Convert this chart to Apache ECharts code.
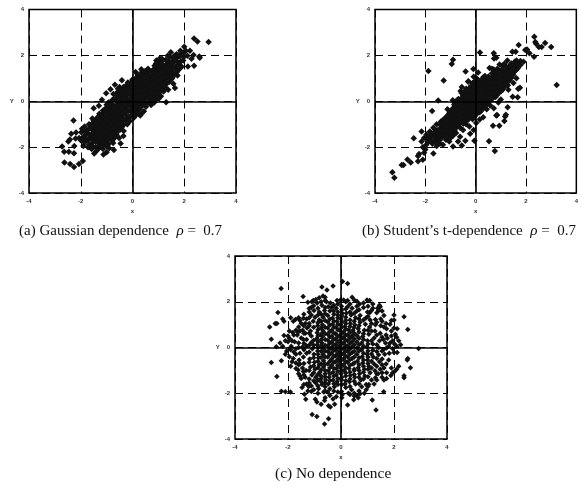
<!DOCTYPE html>
<html><head><meta charset="utf-8">
<style>html,body{margin:0;padding:0;background:#fff;overflow:hidden}#c{width:581px;height:487px}</style>
<script src="https://cdn.jsdelivr.net/npm/echarts@6/dist/echarts.min.js"></script>
</head><body><div id="c"></div>
<script>
const tickValues=[-4,-2,0,2,4];
const captions=["(a) Gaussian dependence","(b) Student\u2019s t-dependence","(c) No dependence"];
const rhoText="\u03c1";
const rhoValue="=  0.7";
const gaussianPoints=[
[2.94,2.58],[2.38,2.74],[2.51,2.6],[2.58,1.95],[2.6,1.9],[2.14,1.52],[2.38,1.55],[1.64,.58],[1.3,-.04],[-2.28,-.84],[-2.72,-1.97],[-2.64,-2.2],[-2.46,-2.2],[-2.26,-2.27],[-2.63,-2.67],[-2.41,-2.74],[-2.26,-2.87],[-2.07,-2.74],[-1.92,-2.6],[-2.37,-1.42],[-2.18,-1.36],[-2.48,-1.75],[-2.42,-1.67],[-2.25,-1.95],[-2.06,-1.6],[-2.0,-1.7],
[-1.5,-.3],[-1.3,-.2],[-1.18,.06],[-1.02,.35],[-.85,.52],[-.68,.72],[-.41,.92],[-.18,.82],[.12,1.27],[.2,1.15],[.34,1.4],[.6,1.42],[.92,1.78],[1.05,1.86],[1.48,2.14],[1.36,1.98],[1.9,2.1],[2.0,2.38],[2.06,2.2],[2.22,2.2],[2.36,2.02],[2.12,1.98],[2.28,1.85],[1.96,1.78],[1.72,1.9],[1.58,1.76],[1.8,1.62],[1.66,1.42],[1.42,1.6],[1.5,1.32],[1.74,1.12],[1.52,.98],[1.58,.76],[1.3,.74],[1.2,.42],[1.02,.32],[.92,.1],[.72,-.16],[.52,-.24],[.44,-.44],[.6,-.06],[.3,-.62],[.14,-.6],[-.1,-.86],[-.22,-.76],[-.34,-1.3],[-.52,-1.6],[-.62,-1.46],[-.46,-1.84],[-.75,-1.82],[-.9,-2.05],[-1.12,-2.32],[-1.0,-2.22],[-1.4,-2.18],[-1.48,-2.28],[-1.58,-2.08],[-1.72,-2.0],[-1.9,-1.95],[-.72,-2.12],
[-1.95,-1.2],[-1.85,-1.1],[-1.78,-1.42],[-1.9,-1.55],[-1.72,-1.7],[-1.58,-1.85],[-1.62,-1.52],[-1.55,-1.25],[-1.62,-1.05],[-1.5,-.9],[-1.4,-.8],[-1.42,-1.1],[-1.42,-1.38],[-1.42,-1.62],[-1.3,-1.78],[-1.25,-1.5],[-1.28,-1.25],[-1.28,-.98],[-1.25,-.68],[-1.15,-.55],[-1.14,-.85],[-1.12,-1.1],[-1.14,-1.38],[-1.15,-1.6],[-1.12,-1.92],[-1,-1.78],[-.98,-1.52],[-1,-1.25],[-1,-1],[-1,-.72],[-1,-.45],[-1,-.15],[-.86,-.05],[-.85,-.3],[-.85,-.58],[-.85,-.85],[-.85,-1.1],[-.85,-1.38],[-.82,-1.68],[-.7,-1.6],[-.7,-1.25],[-.7,-1],[-.7,-.72],[-.7,-.48],[-.72,-.2],[-.72,.1],[-.74,.32],[-.58,.4],[-.58,.18],[-.56,-.06],[-.56,-.32],[-.56,-.58],[-.56,-.85],[-.56,-1.1],[-.42,-1.12],[-.42,-.92],[-.42,-.68],[-.42,-.42],[-.42,-.18],[-.42,.05],[-.42,.3],[-.42,.52],[-.3,.62],[-.28,.4],[-.28,.18],[-.28,-.05],[-.28,-.3],[-.28,-.55],[-.28,-.8],[-.14,-.68],[-.14,-.42],[-.14,-.18],[-.14,.05],[-.14,.3],[-.14,.52],[-.14,.72],[0,.95],[0,.7],[0,.46],[0,.22],[0,-.02],[0,-.26],[0,-.5],[.14,-.42],[.14,-.18],[.14,.06],[.14,.3],[.14,.54],[.14,.8],[.14,1.02],[.3,1.08],[.3,.82],[.28,.6],[.28,.36],[.28,.12],[.28,-.12],[.28,-.34],[.42,-.08],[.42,.16],[.42,.4],[.42,.64],[.42,.88],[.42,1.18],[.56,1.22],[.56,.95],[.56,.7],[.56,.46],[.56,.22],[.7,.04],[.7,.3],[.7,.54],[.7,.78],[.7,1.02],[.72,1.3],[.84,1.42],[.84,1.16],[.84,.9],[.84,.66],[.84,.42],[.82,.2],[.98,.5],[.98,.76],[.98,1],[.98,1.26],[1,1.56],[1.12,1.72],[1.12,1.4],[1.12,1.15],[1.12,.9],[1.12,.62],[1.26,.95],[1.26,1.2],[1.26,1.45],[1.28,1.8],[1.42,1.22],[1.6,1.15],[1.62,1.98],[1.78,2],[1.38,1.05],[1.8,1.38],[1.9,1.5],
[-2.2,-1.62],[-1.98,-1.35],[-1.85,-1.72],[-1.74,-1.25],[-.35,-1.52],[-.2,-1.0],[.05,-.72],[.38,-.5],[.84,-.05],[1.02,.12],[1.1,.22],[-.95,-1.9],[-1.3,-2.05],[-.6,-1.3],[-.5,.62],[1.38,.5]
];
const gaussianColumns=[
[-1.5,-1.6,-1.35,-1.1,-.85],[-1.35,-1.75,-1.5,-1.2,-.95,-.7],[-1.21,-1.85,-1.62,-1.38,-1.12,-.85,-.6],[-1.07,-1.7,-1.45,-1.15,-.9,-.62,-.35],[-.93,-1.85,-1.62,-1.38,-1.12,-.88,-.6,-.3,-.05],[-.78,-1.72,-1.5,-1.22,-.97,-.7,-.45,-.18,.05],[-.63,-1.4,-1.18,-.95,-.7,-.45,-.2,.05,.28],[-.49,-1.25,-1,-.78,-.55,-.3,-.08,.18,.42],[-.35,-1.05,-.8,-.55,-.3,-.05,.18,.42,.62],[-.21,-.95,-.7,-.42,-.18,.08,.3,.52,.72],[-.07,-.65,-.38,-.14,.1,.34,.58,.82],[.07,-.52,-.3,-.06,.18,.42,.66,.9],[.21,-.5,-.25,0,.24,.48,.72,.95],[.35,-.22,.02,.26,.52,.76,1,1.25],[.49,-.1,.1,.34,.58,.82,1.08,1.32],[.63,.1,.4,.62,.88,1.12,1.36],[.77,.12,.36,.6,.84,1.1,1.32],[.91,.25,.6,.88,1.12,1.38,1.65],[1.05,.42,.75,1.02,1.28,1.5],[1.19,.78,1.02,1.3,1.55],[1.33,1.1,1.32,1.6],
[-1.85,-1.3,-1.55,-1.8],[-1.68,-1,-1.2,-1.45,-1.62,-1.9],[-1.55,-.75,-1,-1.12,-1.4,-1.7,-1.95],[-1.42,-.95,-1.25,-1.5,-1.78,-2],[-1.28,-.55,-.85,-1.12,-1.38,-1.65,-1.92],[-1.14,-.4,-.7,-1,-1.25,-1.5,-1.78,-2.08],[-1,-.3,-.58,-.85,-1.12,-1.38,-1.65,-1.95],[-.86,-.18,-.45,-.72,-.98,-1.25,-1.52],[-.7,-.32,-.6,-.85,-1.12,-1.42],[-.56,-.2,-.45,-.72,-.98,.3,.55],
[.85,.05,.3,.55,.78,1.02,1.28,1.55],[1,.2,.4,.64,.88,1.14,1.4,1.68],[1.14,.5,.75,1.02,1.28,1.55,1.85],[1.28,.6,.85,1.08,1.32,1.58],[1.42,.85,1.1,1.35,1.5,1.75,1.95],[1.55,1.05,1.25,1.48,1.65,1.9],[1.7,1.25,1.55,1.75,2.05],[1.85,1.72,1.95,2.2],[2,1.95,2.15]
];
const studentPoints=[
[2.33,2.81],[2.37,2.58],[2.4,2.51],[2.51,2.36],[2.62,2.36],[2.76,2.54],[3,2.36],[3.22,.71],[.17,2.13],[.72,2.09],[.82,1.9],[.73,1.86],[-.9,1.81],[-.95,1.62],[-1.88,1.32],[-1.27,.9],[-.4,1.3],[-.09,1.41],[-.08,1.07],[-.29,.87],[-1.49,.03],[-1.73,-.42],[-.91,.04],[1.71,2.45],[1.46,2.16],[1.59,2.16],[1.97,2.23],[2.04,2.26],[2.14,2.09],[2.32,1.94],[1.26,1.78],[1.14,1.64],[1.76,.59],[1.69,.55],[1.47,.2],[1.67,.17],[1.27,-.26],[1.2,-.59],[1.17,-.67],[.82,-.62],[.69,-1.07],[.94,-1.07],[1.14,-.86],[.53,-1.74],[.76,-2.17],[-.55,-1.93],[-.9,-1.97],[-.41,-1.72],[-.05,-1.72],[-3.31,-3.1],[-3.23,-3.33],[-2.94,-2.78],[-2.87,-2.78],[-2.71,-2.54],[-2.58,-2.67],[-2.29,-2.39],[-2.29,-2.62],[-2.1,-2.55],[-2.46,-1.61],[-2.15,-1.32],[-1.68,-2.28],
[-2.25,-2.3],[-2.05,-2.25],[-2.0,-2.1],[-2.1,-2.0],[-1.98,-1.92],[-2.15,-1.75],[-2.05,-1.6],[-1.95,-1.45],[-1.9,-1.68],[-1.82,-1.32],[-1.8,-1.55],[-1.72,-1.85],[-1.62,-1.6],[-1.65,-1.38],[-1.68,-1.15],[-1.55,-1.0],[-1.5,-1.25],[-1.5,-1.48],[-1.5,-1.72],[-1.42,-1.85],[-1.35,-1.58],[-1.35,-1.35],[-1.35,-1.12],[-1.38,-.88],[-1.22,-.75],[-1.2,-.98],[-1.2,-1.2],[-1.2,-1.42],[-1.18,-1.68],[-1.05,-1.75],[-1.05,-1.45],[-1.05,-1.2],[-1.05,-1],[-1.05,-.75],[-1.05,-.52],[-1.12,-.35],[-.9,-.3],[-.9,-.55],[-.9,-.8],[-.9,-1.02],[-.9,-1.25],[-.9,-1.5],[-.78,-1.38],[-.76,-1.12],[-.76,-.9],[-.76,-.68],[-.76,-.45],[-.76,-.2],[-.76,.02],[-.62,-.02],[-.62,-.25],[-.62,-.48],[-.62,-.7],[-.62,-.92],[-.62,-1.15],[-.62,-1.55],[-.5,-1.25],[-.5,-.98],[-.5,-.78],[-.5,-.58],[-.5,-.38],[-.5,-.18],[-.5,.04],[-.5,.26],[-.55,.62],[-.38,.55],[-.38,.32],[-.38,.1],[-.38,-.12],[-.38,-.34],[-.38,-.56],[-.38,-.78],[-.38,-1],[-.25,-1.1],[-.25,-.72],[-.25,-.5],[-.25,-.28],[-.25,-.06],[-.25,.16],[-.25,.38],[-.25,.58],[-.12,.8],[-.12,.55],[-.12,.32],[-.12,.1],[-.12,-.12],[-.12,-.34],[-.12,-.56],[-.12,-.78],[-.08,-1.25],[.02,-.95],[.02,-.58],[.02,-.36],[.02,-.14],[.02,.08],[.02,.3],[.02,.52],[.02,.74],[.05,.98],[.16,.86],[.16,.62],[.16,.4],[.16,.18],[.16,-.04],[.16,-.26],[.16,-.48],[.16,-.8],[.3,-.7],[.3,-.3],[.3,-.08],[.3,.14],[.3,.36],[.3,.58],[.3,.8],[.3,1.05],[.44,1.02],[.44,.76],[.44,.54],[.44,.32],[.44,.1],[.44,-.12],[.44,-.35],[.58,-.18],[.58,.08],[.58,.3],[.58,.52],[.58,.74],[.58,.96],[.55,1.45],[.65,1.42],[.72,1.38],[.72,1.12],[.72,.9],[.72,.68],[.72,.46],[.72,.24],[.72,-.3],[.86,.28],[.86,.52],[.86,.74],[.86,.96],[.86,1.18],[.86,1.42],[1,1.34],[1,1.1],[1,.88],[1,.66],[1,.42],[1,.08],[1.14,.62],[1.14,.84],[1.14,1.06],[1.14,1.28],[1.28,.98],[1.28,1.2],[1.28,1.42],[1.28,.7],[1.42,1.22],[1.42,1.02],[1.42,1.42],[1.42,1.65],[1.55,1.3],[1.55,1.5],[1.55,1.72],[1.68,1.45],[1.68,1.68],[1.78,1.58],[1.78,1.76],[1.9,1.72],[1.3,.5],[.9,-.05],[.85,-.6],[-.6,.45],[-.3,.85],[.1,1.25],[1.05,1.55],[.95,1.6],[1.62,1],[1.5,.8],[-1.55,-1.95],[-1.3,-1.9],[-.7,-1.75],[-.22,-1.42]
];
const studentColumns=[
[-1.9,-1.55,-1.8],[-1.75,-1.72,-1.45],[-1.6,-1.75,-1.5,-1.25],[-1.55,-1.35,-1.6],[-1.43,-1.7,-1.45,-1.22,-1],[-1.28,-1.48,-1.25,-1,-.8],[-1.2,-1.55,-1.3,-1.1,-.88],[-1.12,-1.55,-1.3,-1.08,-.85,-.62],[-1,-1.6,-.62],[-.97,-1.38,-1.12,-.9,-.68,-.42],[-.85,-1.4,-.15],[-.83,-1.25,-1.02,-.78,-.55,-.32,-.1],[-.69,-1.05,-.8,-.58,-.35,-.12,.1],[-.56,-.88,-.68,-.48,-.28,-.08,.14,.36],[-.44,-.88,-.67,-.46,-.24,-.02,.2,.42],[-.31,-.82,-.62,-.4,-.18,.04,.26,.48],[-.18,-.68,-.45,-.24,0,.22,.44,.66],[-.05,-.68,-.46,-.24,-.02,.2,.42,.64,.85],[.09,-.38,-.15,.08,.3,.52,.74,.94],[.23,-.4,-.18,.04,.26,.48,.7,.92],[.37,-.22,0,.22,.44,.66,.88,1.1],[.51,-.05,.2,.42,.64,.85,1.08],[.65,.1,.36,.58,.8,1.02,1.22],[.79,.18,.4,.62,.84,1.06,1.28],[.93,.4,.62,.85,1.06,1.28],[1.07,.5,.74,.96,1.18,1.4],[1.21,.85,1.08,1.3,1.52],[1.35,.9,1.12,1.32,1.55],[1.49,1.15,1.4,1.62],[1.62,1.38,1.6,1.78]
];
const independentPoints=[
[-2.26,2.58],[-2.38,1.53],[-2.69,.9],[-2.48,1.05],[-2.42,1.05],[-2.63,.36],[-2.44,.03],[-2.63,-.66],[-2.25,-.58],[-2.42,-1.27],[-2.25,-1.91],[-2.1,-1.93],[-1.91,-1.94],[.06,2.88],[.25,2.8],[-.72,2.64],[-.53,2.51],[-.3,2.69],[-1.43,2.23],[2.93,-.04],[2.62,-.88],[2.38,-1.24],[2.38,-1.32],[2.52,.79],[2.38,1.34],[1.32,-2.73],[1.18,-2.29],[-1.09,-2.93],[-.91,-3.02],[-.47,-3.11],[-.62,-3.34],[.25,-2.51],[-.24,-2.48],[-.47,-2.55],[-.4,-2.6],[-.75,-2.48],[-.91,-2.38],[-.97,-2.26],[-1.33,-2.26],[-1.38,-2.04],[-1.47,-1.75],[1.61,-1.93],
[-2.2,1.25],[-2.15,1.15],[-1.9,1.3],[-1.8,1.15],[-1.72,1.22],[-1.6,1.3],[-1.55,1.18],[-1.5,1.05],[-1.95,.72],[-1.82,.66],[-2.15,.52],[-2.1,.3],[-2.0,.25],[-1.85,.3],[-1.75,.25],[-1.65,.55],[-1.55,.72],[-1.6,.2],[-1.5,.42],[-1.45,.02],[-1.7,-.05],[-1.9,-.1],[-2.05,-.15],[-1.95,-.4],[-1.8,-.48],[-1.7,-.3],[-1.55,-.25],[-1.58,-.55],[-1.42,-.42],[-1.9,-.82],[-1.62,-.98],[-1.45,-.9],[-1.5,-1.35],[-1.32,-1],[-1.3,-1.6],[-1.22,-1.7],[-1.12,-1.68],[-1.2,-1.38],[-1.1,-1.2],[-1.15,-.85],[-1.18,-.5],[-1.3,-.25],[-1.3,.08],[-1.3,.35],[-1.35,.62],[-1.28,.85],[-1.2,1.05],[-1.12,1.42],[-1.02,1.62],[-.98,1.32],[-1.05,1.15],[-1.15,.72],[-1.12,.5],[-1.12,.22],[-1.08,-.06],[-1.02,-.3],[-1,-.65],[-.98,-.95],[-.95,-1.3],[-.95,-1.55],[-.85,-1.8],[-.72,-1.62],[-.75,-1.35],[-.8,-1.08],[-.82,-.75],[-.85,-.45],[-.88,-.15],[-.9,.12],[-.92,.38],[-.9,.65],[-.88,.95],[-.82,1.2],[-.82,1.55],[-.9,1.95],[-1.05,2.05],[-.82,2.18],[-.68,2.25],[-.72,1.85],[-.62,1.62],[-.68,1.32],[-.7,1],[-.68,.72],[-.7,.48],[-.72,.2],[-.68,-.02],[-.68,-.3],[-.66,-.58],[-.66,-.85],[-.6,-1.15],[-.58,-1.42],[-.6,-1.72],[-.5,-1.95],[-.48,-1.6],[-.45,-1.3],[-.48,-1.02],[-.5,-.72],[-.5,-.42],[-.5,-.18],[-.5,.08],[-.5,.32],[-.5,.58],[-.5,.85],[-.5,1.12],[-.5,1.4],[-.48,1.78],[-.4,1.95],[-.28,1.6],[-.32,1.28],[-.32,1.02],[-.35,.75],[-.35,.48],[-.35,.24],[-.35,0],[-.35,-.24],[-.35,-.5],[-.35,-.78],[-.3,-1.08],[-.3,-1.42],[-.25,-1.72],[-.18,-2.15],[-.15,-1.5],[-.18,-1.2],[-.18,-.92],[-.2,-.62],[-.2,-.36],[-.2,-.12],[-.2,.12],[-.2,.36],[-.2,.6],[-.18,.88],[-.15,1.15],[-.12,1.42],[-.18,1.72],[-.15,2.05],[-.02,2.08],[.1,2.08],[.02,1.8],[.05,1.5],[0,1.25],[-.02,1],[-.05,.75],[-.05,.52],[-.05,.3],[-.05,.08],[-.05,-.15],[-.05,-.38],[-.05,-.62],[-.02,-.88],[0,-1.15],[.02,-1.42],[.02,-1.92],[.05,-2.05],[.15,-1.6],[.18,-1.25],[.12,-1],[.1,-.75],[.1,-.5],[.1,-.26],[.1,-.03],[.1,.2],[.1,.44],[.1,.68],[.15,.92],[.18,1.18],[.2,1.5],[.25,1.78],[.42,2.2],[.5,2.08],[.42,1.72],[.38,1.42],[.35,1.05],[.28,.78],[.25,.54],[.25,.3],[.25,.06],[.25,-.16],[.25,-.4],[.25,-.65],[.3,-.92],[.35,-1.22],[.32,-1.5],[.4,-1.85],[.48,-2.28],[.6,-2.1],[.55,-1.6],[.52,-1.3],[.5,-1],[.45,-.72],[.42,-.48],[.42,-.22],[.42,.02],[.42,.26],[.42,.5],[.45,.75],[.52,1],[.55,1.3],[.6,1.6],[.7,1.9],[.6,1.8],[.72,1.4],[.72,1.1],[.65,.82],[.6,.52],[.6,.25],[.6,-.02],[.6,-.3],[.62,-.6],[.65,-.88],[.7,-1.15],[.75,-1.42],[.78,-1.72],[.72,-2.02],[.88,-2],[.95,-1.62],[.9,-1.25],[.88,-.95],[.82,-.68],[.8,-.4],[.78,-.1],[.78,.2],[.82,.48],[.88,.75],[.92,1.02],[.95,1.3],[.98,2.08],[1.08,2.05],[1.08,1.52],[1.1,1.2],[1.08,.9],[1.05,.58],[1,.3],[.98,.02],[.98,-.28],[1,-.55],[1.05,-.82],[1.1,-1.1],[1.15,-1.42],[1.3,-1.32],[1.28,-1.02],[1.25,-.72],[1.22,-.42],[1.2,-.12],[1.2,.15],[1.25,.42],[1.28,.72],[1.3,1],[1.3,1.22],[1.42,1.62],[1.48,1.78],[1.38,1.72],[1.5,.95],[1.48,.62],[1.45,.3],[1.42,0],[1.42,-.32],[1.45,-.62],[1.48,-.95],[1.72,-1.35],[1.62,-1.42],[1.7,-.72],[1.65,-.3],[1.72,-.02],[1.68,.2],[1.7,.55],[1.72,.82],[1.85,1.02],[1.9,.72],[1.85,.2],[1.82,-.25],[1.88,-1.22],[2.02,-1.05],[2,1.2],[2,1.42],[1.9,1.18],[2.05,.58],[2.12,.82],[2.02,.15],[2.18,.3],[2.25,.12],[2.12,-.22],[2,-.22],[2.18,-.82],[2.1,-.95],[1.95,-1.1],[2.52,-.48],[2.5,-.55],
[-2.3,.2],[-2.2,.05],[-2.1,-.3],[-2,.5],[-1.95,.4],[-1.88,.05],[-1.78,.55],[-1.7,.75],[-1.62,.68],[-1.45,.75],[-1.42,.35],[-1.7,-.68],[-1.55,-.72],[-1.78,-.2],[-1.85,-.62],[-1.7,-.92],[-1.42,-1.05],[-1.35,-1.3],[-1.4,-1.62],[-1.55,-1.25],[-1.25,-1.9],[-1.12,-1.92],[-1.2,1.55],[-1.3,1.25],[-1.42,1.28],[-1.35,1.05],[-1.12,1.75],[-1.1,2],[-.95,2.1],[-1.25,1.98],[-.6,2.2],[-.55,2],[-.35,1.75],[.25,2.05],[.6,2.02],[.85,1.95],[1,1.55],[1.2,1.9],[1.2,1.72],[1.45,1.85],[1.55,1.6],[1.62,1.4],[1.62,.9],[1.7,1.05],[1.5,1.25],[1.6,.35],[1.75,.4],[1.8,.05],[1.95,.3],[1.95,-.05],[2.1,.05],[1.9,.5],[2,.85],[2.1,.45],[1.6,-.1],[1.55,-.5],[1.62,-.9],[1.55,-1.3],[1.4,-1.15],[1.35,-1.42],[1.8,-.55],[1.9,-.9],[1.72,-1.1],[1.25,-1.6],[1.05,-1.62],[.95,-1.85],[.65,-2.2],[.5,-2.12],[.28,-2],[-.3,-2.25],[-.65,-1.95],[-.62,-2.32]
];
const independentColumns=[
[-1.6,.9,0,-.75,-1.15],[-1.4,1.45,.95,.62,.18,-.1,-.7,-1.2],[-1.2,1.7,1.3,.95,.62,.1,-.2,-.65,-1,-1.55],[-1.03,1.82,.88,.32,.1,-.45,-.8,-1.1,-1.45,-1.85],[-.87,1.72,1.42,1.08,.78,.5,.25,0,-.3,-.6,-.88,-1.18,-1.42,-1.68,-2],[-.75,2,1.45,1.15,.85,.58,.34,.08,-.16,-.44,-.72,-.98,-1.25,-1.5],[-.6,2.05,1.75,1.48,1.18,.88,.6,.35,.1,-.15,-.42,-.72,-1,-1.28,-1.55,-1.9,-2.2],[-.42,1.6,1.25,.98,.7,.46,.2,-.05,-.3,-.6,-.88,-1.15,-1.45,-1.8,-2.1],[-.27,1.85,1.45,1.15,.88,.62,.36,.12,-.12,-.38,-.65,-.92,-1.25,-1.58,-1.9],[-.12,1.9,1.55,1.3,1.02,.76,.48,.24,0,-.25,-.5,-.78,-1.05,-1.35,-1.62,-1.95],[.03,1.65,1.38,1.12,.88,.62,.4,.18,-.05,-.28,-.52,-.76,-1.02,-1.3,-1.62,-2.2],[.18,2,1.68,1.32,1.05,.8,.55,.32,.08,-.15,-.38,-.62,-.88,-1.12,-1.45,-1.75],[.34,1.9,1.55,1.2,.92,.66,.42,.18,-.05,-.28,-.52,-.78,-1.08,-1.38,-1.7,-2.05],[.5,1.5,1.15,.88,.62,.38,.12,-.16,-.42,-.68,-.95,-1.18,-1.48,-2],[.68,1.65,1.25,.95,.68,.4,.12,-.15,-.45,-.75,-1,-1.3,-1.58,-1.9],[.85,1.75,1.2,.6,.35,.05,-.25,-.55,-.82,-1.08,-1.38],[1.02,1.8,1.35,.75,.15,-.15,-.42,-.7,-.95,-1.28,-1.7],[1.15,1.62,1.05,.72,.3,-.28,-.6,-.9],[1.35,1.52,1.1,.55,.12,-.18,-.48,-.82,-1.15],[1.55,1.15,.45,-.15,-.75,-1.1]
];
const expand=cols=>cols.flatMap(([x,...ys])=>ys.map(y=>[x,y]));
const grids=[{left:29,top:9.5,width:207,height:183.5},{left:375,top:9.5,width:207,height:183.5},{left:235,top:256,width:212,height:183}];
const data=[gaussianPoints.concat(expand(gaussianColumns)),studentPoints.concat(expand(studentColumns)),independentPoints.concat(expand(independentColumns))];
const capPos=[[19,224],[362,224],[275,466]];
const capSize=[15,15,15.4];
const markSize=[6.5,6.5,5.5];
const dash=[8,5];
const smallFont={fontFamily:'Liberation Sans',fontSize:6,fontWeight:'bold',color:'#333'};
const axisBase=(i)=>({gridIndex:i,min:tickValues[0],max:tickValues[tickValues.length-1],interval:2,axisTick:{show:false},
  axisLine:{show:false},
  axisLabel:{...smallFont,margin:5,showMinLabel:true,showMaxLabel:true},
  splitLine:{show:true,lineStyle:{color:'#000',width:1,type:dash}}});
const option={animation:false,backgroundColor:'#fff',
 grid:grids.map(g=>({...g,show:true,borderColor:'#000',borderWidth:1.5,backgroundColor:'transparent',containLabel:false})),
 xAxis:data.map((_,i)=>({...axisBase(i),type:'value',name:'x',nameLocation:'middle',nameGap:15,nameTextStyle:smallFont})),
 yAxis:data.map((_,i)=>({...axisBase(i),type:'value',name:'Y',nameLocation:'middle',nameRotate:0,nameGap:14,nameTextStyle:smallFont})),
 title:captions.map((c,i)=>({text:i<2?`${c}  {i|${rhoText}} ${rhoValue}`:c,left:capPos[i][0],top:capPos[i][1],padding:0,
   textStyle:{fontFamily:'Liberation Serif',fontSize:capSize[i],fontWeight:'normal',color:'#111',rich:{i:{fontFamily:'Liberation Serif',fontStyle:'italic',fontSize:capSize[i],color:'#111'}}}})),
 series:data.map((d,i)=>({type:'scatter',xAxisIndex:i,yAxisIndex:i,data:d,symbol:'diamond',symbolSize:markSize[i],itemStyle:{color:'#111',opacity:1},
   silent:true,clip:false,large:false,
   markLine:{silent:true,symbol:'none',label:{show:false},animation:false,lineStyle:{color:'#000',width:1.6,type:'solid'},data:[{xAxis:0},{yAxis:0}]}}))
};
echarts.init(document.getElementById('c'),null,{renderer:'canvas'}).setOption(option);
</script></body></html>
